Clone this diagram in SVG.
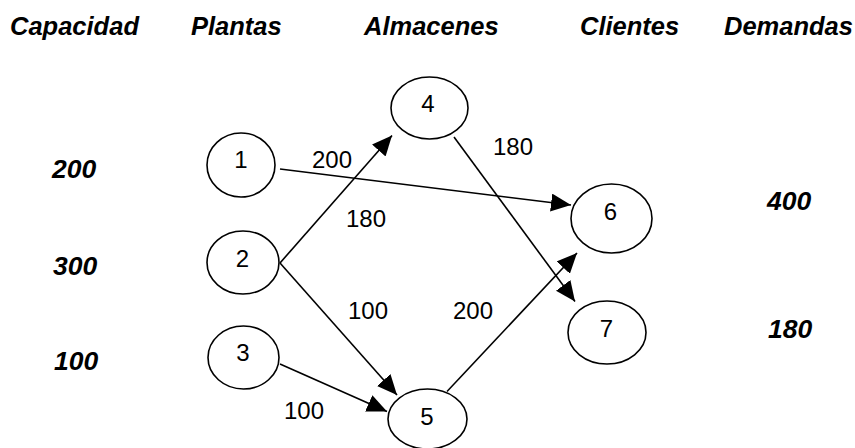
<svg xmlns="http://www.w3.org/2000/svg" width="855" height="448" viewBox="0 0 855 448">
<style>
.hdr{font-family:"Liberation Sans",Arial,sans-serif;font-weight:bold;font-style:italic;font-size:25.5px;fill:#000}
.num{font-family:"Liberation Sans",Arial,sans-serif;font-weight:bold;font-style:italic;font-size:26.5px;fill:#000}
.lbl{font-family:"Liberation Sans",Arial,sans-serif;font-size:24px;fill:#000}
.nd ellipse{fill:#fff;stroke:#000;stroke-width:1.6}
.nd text{font-family:"Liberation Sans",Arial,sans-serif;font-size:24px;fill:#000;text-anchor:middle}
.edge{stroke:#000;stroke-width:1.6;fill:none;marker-end:url(#ah)}
</style>
<defs>
<marker id="ah" viewBox="0 0 20 18" refX="20" refY="9" markerWidth="20" markerHeight="18" markerUnits="userSpaceOnUse" orient="auto">
<path d="M0,0 L20,9 L0,18 z" fill="#000"/>
</marker>
</defs>
<rect width="855" height="448" fill="#fff"/>
<g id="headers">
<text class="hdr" x="10" y="35">Capacidad</text>
<text class="hdr" x="191" y="35">Plantas</text>
<text class="hdr" x="364" y="35">Almacenes</text>
<text class="hdr" x="580" y="35">Clientes</text>
<text class="hdr" x="724" y="35">Demandas</text>
</g>
<g id="capacities">
<text class="num" x="52" y="178">200</text>
<text class="num" x="53" y="275">300</text>
<text class="num" x="54" y="370">100</text>
</g>
<g id="demands">
<text class="num" x="767" y="210">400</text>
<text class="num" x="768" y="338">180</text>
</g>
<g id="connectors">
<line class="edge" x1="280" y1="169" x2="571" y2="205"/>
<line class="edge" x1="280" y1="263" x2="392" y2="135.5"/>
<line class="edge" x1="280" y1="263" x2="397" y2="395"/>
<line class="edge" x1="280" y1="364" x2="387" y2="411.5"/>
<line class="edge" x1="447" y1="391.5" x2="577" y2="253"/>
<line class="edge" x1="454" y1="137" x2="575" y2="301.5"/>
</g>
<g id="edge-labels">
<text class="lbl" x="312" y="168">200</text>
<text class="lbl" x="346" y="227">180</text>
<text class="lbl" x="493" y="155">180</text>
<text class="lbl" x="348" y="319">100</text>
<text class="lbl" x="453" y="319">200</text>
<text class="lbl" x="284" y="419">100</text>
</g>
<g id="node1" class="nd"><ellipse cx="241" cy="165" rx="34" ry="32"/><text x="241" y="168">1</text></g>
<g id="node2" class="nd"><ellipse cx="243" cy="262.5" rx="36" ry="31.5"/><text x="242.5" y="267">2</text></g>
<g id="node3" class="nd"><ellipse cx="243.5" cy="357.5" rx="35.5" ry="31.5"/><text x="243" y="361">3</text></g>
<g id="node4" class="nd"><ellipse cx="429.5" cy="108" rx="38.5" ry="31"/><text x="428" y="112">4</text></g>
<g id="node5" class="nd"><ellipse cx="427.5" cy="419" rx="39.5" ry="30"/><text x="427" y="425">5</text></g>
<g id="node6" class="nd"><ellipse cx="611.5" cy="218.5" rx="40.5" ry="34.5"/><text x="610.5" y="220">6</text></g>
<g id="node7" class="nd"><ellipse cx="607" cy="332.5" rx="39" ry="31.5"/><text x="606.5" y="337">7</text></g>
</svg>
